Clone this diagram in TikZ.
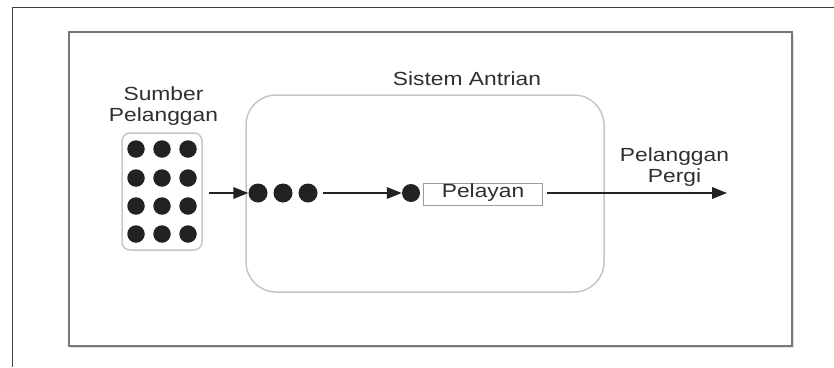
\documentclass[tikz,border=0pt]{standalone}
\usepackage{fontspec}
\setmainfont{Liberation Sans}[FakeStretch=1.2]
\usetikzlibrary{arrows.meta}
\definecolor{txt}{HTML}{2E2E2E}
\definecolor{dotc}{HTML}{222222}
\definecolor{softgray}{HTML}{C6C6C6}
\definecolor{framegray}{HTML}{777777}
\definecolor{pelgray}{HTML}{9A9A9A}
\tikzset{
  lbl/.style={text=txt, font=\fontsize{19}{21}\selectfont, inner sep=0pt, align=center},
  dotnode/.style={circle, fill=dotc, draw=none, minimum size=17.5pt, inner sep=0pt},
  softbox/.style={draw=softgray, line width=1.5pt},
  arr/.style={draw=dotc, line width=1.9pt, -{Triangle[length=15pt,width=11.5pt]}},
}
\begin{document}
\begin{tikzpicture}[x=1pt,y=-1pt]
\useasboundingbox (0,0) rectangle (834,367);
% page frame lines
\draw[draw=black!75, line width=1pt] (834,7) -- (12,7) -- (12,367);
% inner frame
\draw[draw=black!12, line width=1pt] (70.5,347.5) -- (793.5,347.5) -- (793.5,33.5);
\node[draw=framegray, line width=1.2pt, minimum width=723pt, minimum height=314pt, inner sep=0pt] (frame) at (430.5,189) {};
% system box
\node[softbox, rounded corners=30pt, minimum width=358pt, minimum height=197pt, inner sep=0pt] (sys) at (425,193.5) {};
\node[lbl, anchor=base] (systxt) at (467,85) {Sistem Antrian};
% source
\node[softbox, rounded corners=8pt, minimum width=80pt, minimum height=117pt, inner sep=0pt] (src) at (162,191.5) {};
\node[lbl, anchor=north] (srctxt) at (163.5,87) {Sumber\\Pelanggan};
\foreach \r/\yy in {1/149,2/178,3/206,4/234}{
  \foreach \c/\xx in {1/136,2/162,3/188}{
    \node[dotnode] (s\r\c) at (\xx,\yy) {};
  }
}
% queue
\node[dotnode, minimum size=19pt] (q1) at (258,193) {};
\node[dotnode, minimum size=19pt] (q2) at (283,193) {};
\node[dotnode, minimum size=19pt] (q3) at (308,193) {};
\node[dotnode, minimum size=18pt] (q4) at (411,193) {};
\node[draw=pelgray, line width=0.8pt, minimum width=119pt, minimum height=22pt, inner sep=0pt] (pel) at (482.5,194) {};
\node[lbl, anchor=base] (peltxt) at (483,197.5) {Pelayan};
\coordinate (out) at (727,193);
\node[lbl, anchor=north] (outtxt) at (674.5,148) {Pelanggan\\Pergi};
% arrows
\draw[arr, shorten <=6pt] (src.east |- q1.west) -- (q1.west);
\draw[arr, shorten <=5pt] (q3.east) -- (q4.west);
\draw[arr, shorten <=5pt] (pel.east |- out) -- (out);
\end{tikzpicture}
\end{document}
